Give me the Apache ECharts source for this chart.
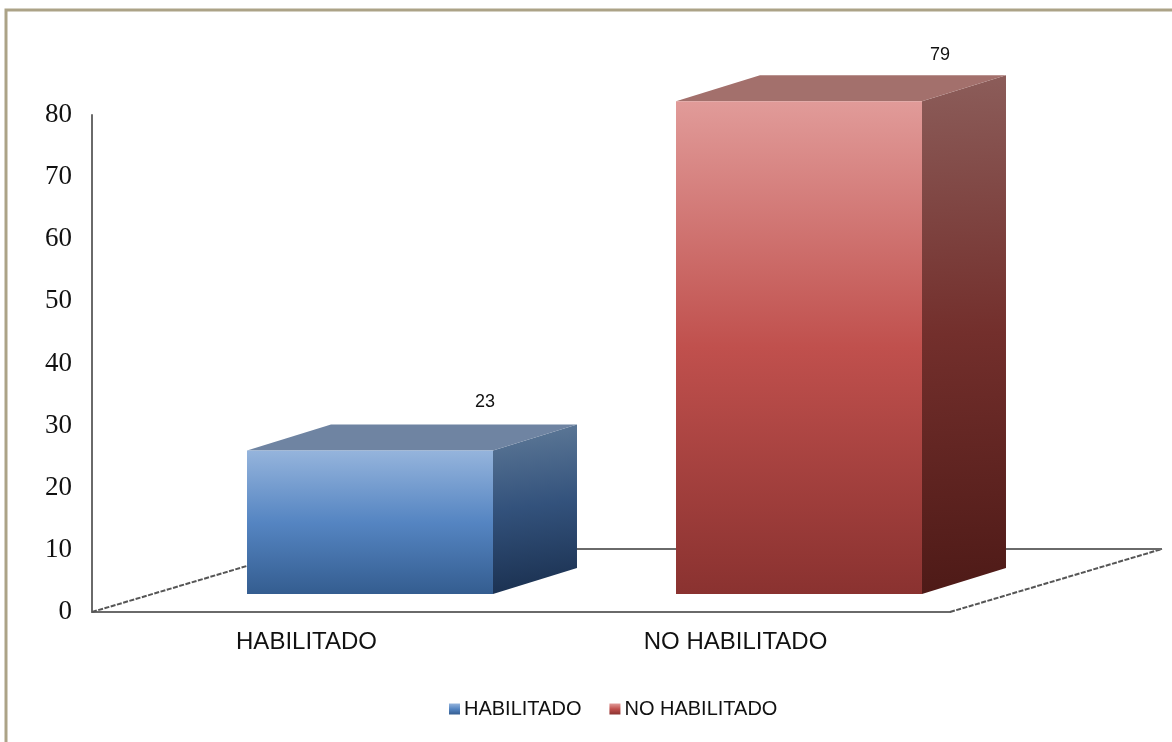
<!DOCTYPE html>
<html>
<head>
<meta charset="utf-8">
<style>html,body{margin:0;padding:0;background:#fff}#c{width:1172px;height:742px}</style>
<script src="https://cdn.jsdelivr.net/npm/echarts@6/dist/echarts.min.js"></script>
</head>
<body>
<div id="c"></div>
<script>
const categories = ['HABILITADO', 'NO HABILITADO'];
const habilitado = [23, null];
const noHabilitado = [null, 79];
const yMin = 0, yMax = 80, yInterval = 10;
const labelShift = [[-8, -23], [18, -20]];
const axisColor = '#6a6a6a';
const textColor = '#111';

const LG = (x2, y2, stops) => new echarts.graphic.LinearGradient(0, 0, x2, y2,
  stops.map(s => ({offset: s[0], color: s[1]})));

const BLUE = {
  front: [[0, '#95b4dc'], [0.5, '#5585c2'], [1, '#345d90']],
  side: [[0, '#5f7a98'], [0.5, '#33527c'], [1, '#1b3151']],
  top: '#6f84a2'
};
const RED = {
  front: [[0, '#e19b99'], [0.5, '#c0504d'], [1, '#8a3230']],
  side: [[0, '#8c5d5a'], [0.5, '#732f2c'], [1, '#4e1a17']],
  top: '#a3706c'
};
const DX = 84, DY = -26;

function barRender(pal) {
  return function (params, api) {
    const cat = api.value(0), val = api.value(1);
    const top = api.coord([cat, val]);
    const base = api.coord([cat, 0]);
    const w = api.size([1, 0])[0] * 0.5734;
    const l = top[0] - w / 2, r = top[0] + w / 2, t = top[1], b = base[1];
    const shift = labelShift[cat];
    return {
      type: 'group',
      children: [
        {type: 'polygon', shape: {points: [[r, t], [r + DX, t + DY], [r + DX, b + DY], [r, b]]},
          style: {fill: LG(0.25, 1, pal.side)}},
        {type: 'polygon', shape: {points: [[l, t], [l + DX, t + DY], [r + DX, t + DY], [r, t]]},
          style: {fill: pal.top}},
        {type: 'rect', shape: {x: l, y: t, width: r - l, height: b - t},
          style: {fill: LG(0, 1, pal.front)}},
        {type: 'text', style: {
          text: String(val), x: top[0] + w / 2 + shift[0] - 81 + DX - 3 + 0, y: t + DY + shift[1],
          align: 'center', verticalAlign: 'middle',
          font: '18px "Liberation Sans"', fill: textColor}}
      ]
    };
  };
}

function floorRender(params, api) {
  const cs = params.coordSys;
  const x0 = cs.x, y0 = cs.y + cs.height, x1 = cs.x + cs.width;
  const fx = 212, fy = -63;
  const st = {stroke: '#555', lineWidth: 2, lineDash: [5, 1.5], fill: null};
  return {
    type: 'group',
    children: [
      {type: 'line', shape: {x1: x0, y1: y0, x2: x0 + fx, y2: y0 + fy}, style: st},
      {type: 'line', shape: {x1: x1, y1: y0, x2: x1 + fx, y2: y0 + fy}, style: st},
      {type: 'line', shape: {x1: x0 + fx, y1: y0 + fy, x2: x1 + fx, y2: y0 + fy},
        style: {stroke: axisColor, lineWidth: 2, fill: null}}
    ]
  };
}

const chart = echarts.init(document.getElementById('c'), null, {renderer: 'canvas'});
chart.setOption({
  animation: false,
  backgroundColor: '#fff',
  graphic: [{type: 'rect', silent: true, z: -10,
    shape: {x: 6, y: 10, width: 1400, height: 1000},
    style: {fill: 'none', stroke: '#aca387', lineWidth: 3}}],
  legend: {
    left: 449, top: 699, icon: 'rect', itemWidth: 11, itemHeight: 11, itemGap: 28,
    selectedMode: false, padding: 0,
    data: ['HABILITADO', 'NO HABILITADO'],
    textStyle: {fontFamily: 'Liberation Sans', fontSize: 20, color: textColor, padding: [0, 0, 0, -1]}
  },
  grid: [
    {left: 92, top: 115, width: 858, height: 497},
    {left: 155.5, top: 95, width: 858, height: 499}
  ],
  xAxis: [
    {type: 'category', gridIndex: 0, data: categories,
      axisLine: {lineStyle: {color: axisColor, width: 2}}, axisTick: {show: false},
      axisLabel: {margin: 18, color: textColor, fontFamily: 'Liberation Sans Narrow, Liberation Sans', fontSize: 24}},
    {type: 'category', gridIndex: 1, data: categories, show: false}
  ],
  yAxis: [
    {type: 'value', gridIndex: 0, min: yMin, max: yMax, interval: yInterval,
      axisLine: {show: true, lineStyle: {color: axisColor, width: 2}}, axisTick: {show: false},
      splitLine: {show: false},
      axisLabel: {margin: 20, color: textColor, fontFamily: 'Liberation Serif', fontSize: 27}},
    {type: 'value', gridIndex: 1, min: yMin, max: yMax, interval: yInterval, show: false, splitLine: {show: false}}
  ],
  series: [
    {type: 'custom', name: 'floor', xAxisIndex: 0, yAxisIndex: 0, clip: false, z: 1,
      renderItem: floorRender, data: [[0, 0]], silent: true},
    {type: 'custom', name: 'HABILITADO', xAxisIndex: 1, yAxisIndex: 1, clip: false, z: 2,
      renderItem: barRender(BLUE), itemStyle: {color: LG(0, 1, BLUE.front)},
      data: habilitado.map((v, i) => [i, v]).filter(d => d[1] !== null)},
    {type: 'custom', name: 'NO HABILITADO', xAxisIndex: 1, yAxisIndex: 1, clip: false, z: 2,
      renderItem: barRender(RED), itemStyle: {color: LG(0, 1, RED.front)},
      data: noHabilitado.map((v, i) => [i, v]).filter(d => d[1] !== null)}
  ]
});
</script>
</body>
</html>
